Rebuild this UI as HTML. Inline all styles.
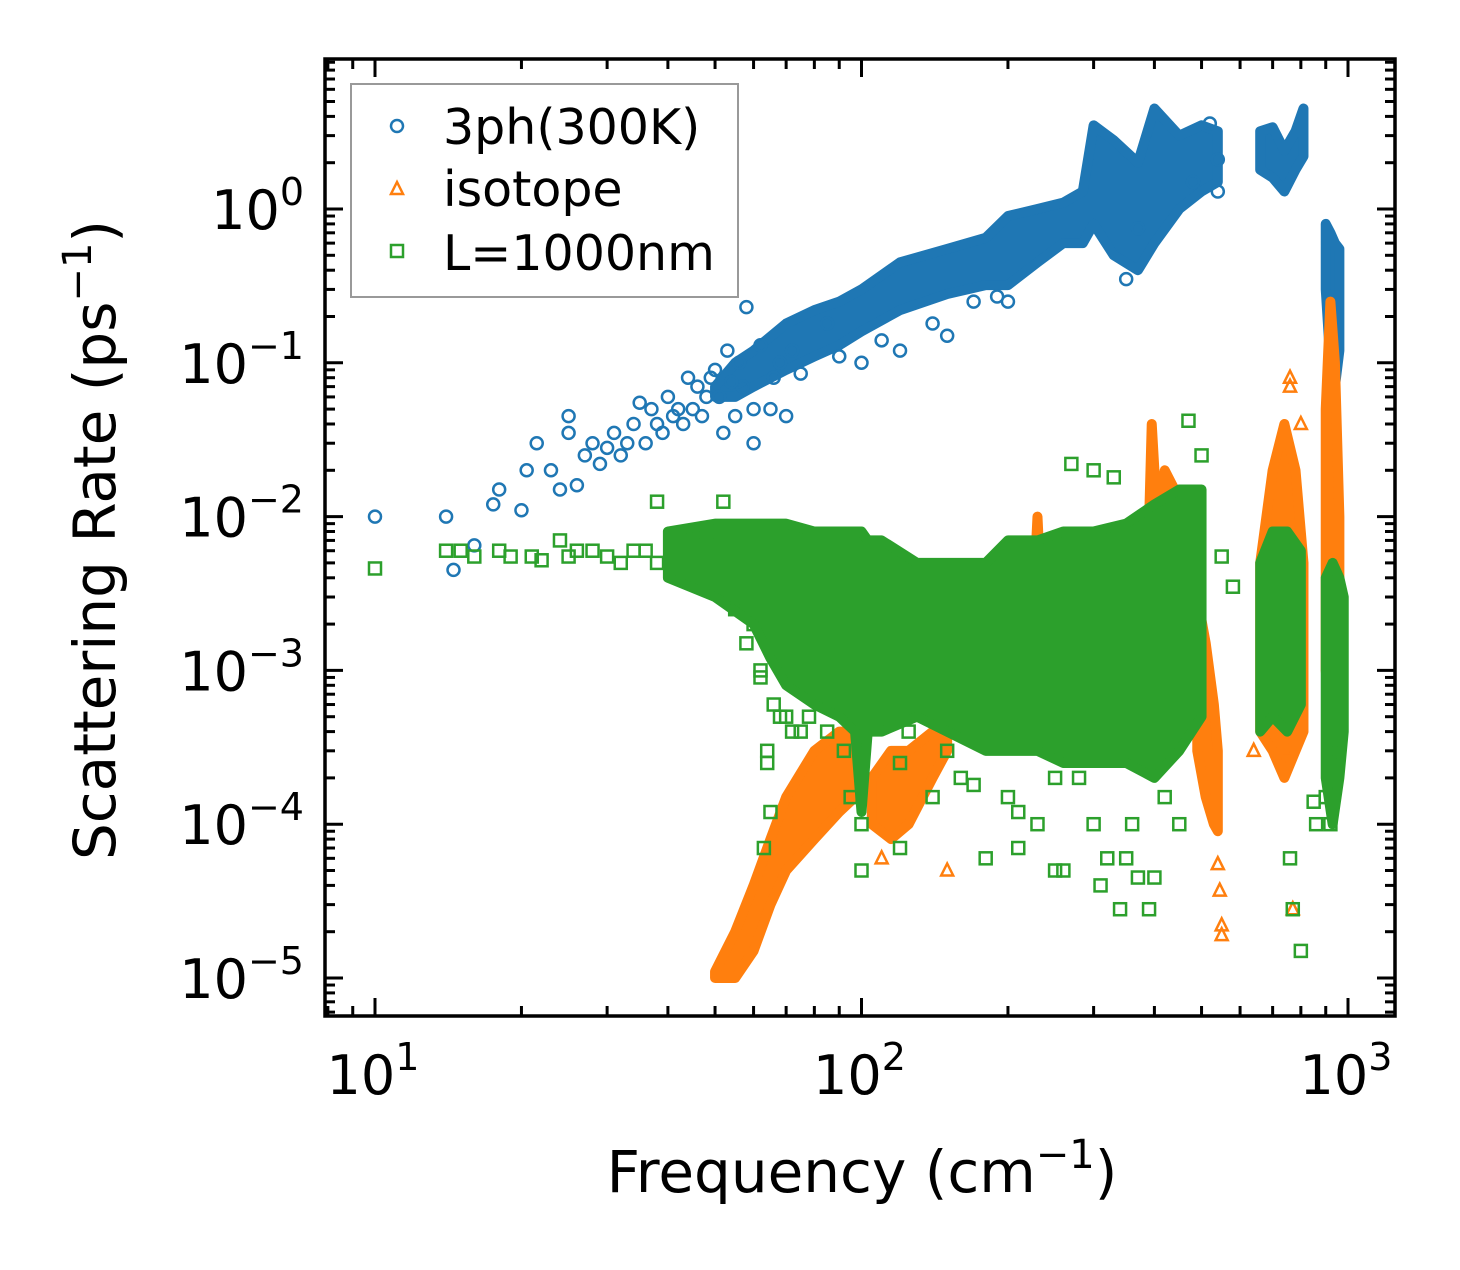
<!DOCTYPE html>
<html><head><meta charset="utf-8"><style>
body{margin:0;background:#fff;}
svg text{font-family:"DejaVu Sans","Liberation Sans",sans-serif;fill:#000;}
</style></head><body>
<svg id="chart" width="1460" height="1265" xmlns="http://www.w3.org/2000/svg">
<g id="plot"></g>
<g id="axes"></g>
</svg>
<script>
// ---- data ----
const blueBandF=[50,55,60,70,80,90,100,120,150,180,200,230,260,285,300,330,370,400,450,500,540];
const blueBandLo=[0.06,0.06,0.07,0.09,0.11,0.13,0.16,0.22,0.28,0.32,0.32,0.45,0.6,0.6,0.8,0.5,0.4,0.6,1.0,1.3,1.5];
const blueBandHi=[0.07,0.1,0.12,0.18,0.22,0.25,0.3,0.45,0.55,0.65,0.9,1.0,1.1,1.3,3.5,2.8,2.0,4.5,3.0,3.5,3.2];
const blueBand2F=[660,700,740,780,810];
const blueBand2Lo=[1.8,1.6,1.3,1.8,2.2];
const blueBand2Hi=[3.2,3.4,2.4,3.2,4.5];
const blueBand3F=[900,920,940,960];
const blueBand3Lo=[0.3,0.1,0.07,0.12];
const blueBand3Hi=[0.8,0.7,0.6,0.55];
const blueX=[10,14,14.5,16,17.5,18,20,20.5,21.5,23,24,25,25,26,27,28,29,30,31,32,33,34,35,36,37,38,40,42,44,46,48,50,52,55,58,60,62,65,70,75,85,100,120,150,200,350,370,480,540,540,520,60,45,47,53,56,43,41,39,57,49,51,54,66,68,72,90,110,140,170,190];
const blueY=[0.01,0.01,0.0045,0.0065,0.012,0.015,0.011,0.02,0.03,0.02,0.015,0.045,0.035,0.016,0.025,0.03,0.022,0.028,0.035,0.025,0.03,0.04,0.055,0.03,0.05,0.04,0.06,0.05,0.08,0.07,0.06,0.09,0.035,0.045,0.23,0.05,0.13,0.05,0.045,0.085,0.18,0.1,0.12,0.15,0.25,0.35,0.75,1.5,1.3,2.1,3.6,0.03,0.05,0.045,0.12,0.1,0.04,0.045,0.035,0.07,0.08,0.06,0.075,0.08,0.1,0.12,0.11,0.14,0.18,0.25,0.27];

const orBands=[
 {f:[50,55,60,65,70,80,90,97],lo:[1e-5,1e-5,1.5e-5,3e-5,5e-5,8e-5,1.2e-4,1.5e-4],hi:[1.1e-5,2e-5,4e-5,8e-5,1.5e-4,3e-4,4e-4,4e-4]},
 {f:[105,115,125,140,150],lo:[1e-4,8e-5,1e-4,2e-4,3e-4],hi:[2e-4,3e-4,3e-4,4e-4,4e-4]},
 {f:[222,230,238],lo:[1e-3,1e-3,1e-3],hi:[1e-3,1e-2,1e-3]},
 {f:[385,395,405,420,440],lo:[1e-3,1e-3,1e-3,1e-3,1e-3],hi:[2e-3,4e-2,1e-2,2e-2,1.5e-2]},
 {f:[490,510,530,540],lo:[3e-4,1.5e-4,1e-4,9e-5],hi:[3e-3,1.5e-3,6e-4,3e-4]},
 {f:[660,700,740,780,810],lo:[4e-4,3e-4,2e-4,3e-4,4e-4],hi:[5e-3,2e-2,4e-2,2e-2,5e-3]},
 {f:[900,920,940,960],lo:[1e-3,5e-4,1e-3,2e-3],hi:[5e-2,0.25,0.1,1e-2]}
];
const orX=[110,150,540,545,550,550,770,760,760,800,750,640,950,960];
const orY=[6e-5,5e-5,5.5e-5,3.7e-5,2.2e-5,1.9e-5,2.8e-5,8e-2,7e-2,4e-2,3e-4,3e-4,4e-3,2e-3];

const grBands=[
 {f:[40,50,60,65,70,80,90,97,100,103,110,130,150,180,200,230,260,300,350,400,450,500],
  lo:[4e-3,3e-3,2e-3,1.2e-3,8e-4,6e-4,5e-4,4e-4,1.2e-4,4e-4,4e-4,5e-4,4e-4,3e-4,3e-4,3e-4,2.5e-4,2.5e-4,2.5e-4,2e-4,3e-4,5e-4],
  hi:[8e-3,9e-3,9e-3,9e-3,9e-3,8e-3,8e-3,8e-3,8e-3,7e-3,7e-3,5e-3,5e-3,5e-3,7e-3,7e-3,8e-3,8e-3,9e-3,1.2e-2,1.5e-2,1.5e-2]},
 {f:[660,700,750,800],lo:[4e-4,5e-4,4e-4,6e-4],hi:[5e-3,8e-3,8e-3,6e-3]},
 {f:[900,930,960,980],lo:[2e-4,1e-4,2e-4,4e-4],hi:[4e-3,5e-3,4e-3,3e-3]}
];
const grX=[10,14,15,16,18,19,21,22,24,25,26,28,30,32,34,36,38,38,44,48,52,60,62,64,65,64,63,70,75,85,95,100,100,120,125,150,160,180,200,210,230,250,260,280,300,310,320,340,350,360,370,390,400,420,450,270,300,330,470,500,550,580,760,770,800,850,860,920,950,900,55,58,62,66,68,72,78,85,92,120,140,170,210,250];
const grY=[0.0046,0.006,0.006,0.0055,0.006,0.0055,0.0055,0.0052,0.007,0.0055,0.006,0.006,0.0055,0.005,0.006,0.006,0.0125,0.005,0.006,0.008,0.0125,0.002,0.001,0.0003,0.00012,0.00025,0.00007,0.0005,0.0004,0.0006,0.00015,0.00005,0.0001,0.00007,0.0004,0.0003,0.0002,0.00006,0.00015,0.00007,0.0001,0.00005,0.00005,0.0002,0.0001,0.00004,0.00006,0.000028,0.00006,0.0001,0.000045,0.000028,0.000045,0.00015,0.0001,0.022,0.02,0.018,0.042,0.025,0.0055,0.0035,0.00006,0.000028,0.000015,0.00014,0.0001,0.0001,0.0003,0.00015,0.0025,0.0015,0.0009,0.0006,0.0005,0.0004,0.0005,0.0004,0.0003,0.00025,0.00015,0.00018,0.00012,0.0002];

const xTickVals=[10,100,1000];
const xTickLabels=[["10","1"],["10","2"],["10","3"]];
const yTickVals=[1,0.1,0.01,0.001,1e-4,1e-5];
const yTickLabels=[["10","0"],["10","−1"],["10","−2"],["10","−3"],["10","−4"],["10","−5"]];

// ---- axes ----
const L=325,R=1395,T=59,B=1016;
const X0=375,XD=486.5, Y0=209, YD=153.8;
const xs=v=>X0+Math.log10(v/10)*XD;
const ys=v=>Y0-Math.log10(v)*YD;
const NS="http://www.w3.org/2000/svg";
const plot=document.getElementById('plot'), axes=document.getElementById('axes');
function mk(tag,attrs,parent){const e=document.createElementNS(NS,tag);for(const k in attrs)e.setAttribute(k,attrs[k]);parent.appendChild(e);return e;}
const C={b:'#1f77b4',o:'#ff7f0e',g:'#2ca02c'};
function band(f,lo,hi,col,name){
  let pts=[];
  for(let i=0;i<f.length;i++)pts.push(xs(f[i])+','+ys(hi[i]));
  for(let i=f.length-1;i>=0;i--)pts.push(xs(f[i])+','+ys(lo[i]));
  const p=mk('polygon',{points:pts.join(' '),fill:col,stroke:col,'stroke-width':10,'stroke-linejoin':'round'},plot);
  
  
}
function circ(x,y){const e=mk('circle',{cx:xs(x),cy:ys(y),r:6,fill:'none',stroke:C.b,'stroke-width':2.5},plot);
  
  }
function tri(x,y){const cx=xs(x),cy=ys(y);const e=mk('polygon',{points:`${cx},${cy-7} ${cx-6},${cy+5} ${cx+6},${cy+5}`,fill:'none',stroke:C.o,'stroke-width':2.5},plot);
  
  }
function sq(x,y){const e=mk('rect',{x:xs(x)-6,y:ys(y)-6,width:12,height:12,fill:'none',stroke:C.g,'stroke-width':2.5},plot);
  
  }

band(blueBandF,blueBandLo,blueBandHi,C.b,'3ph-band');
band(blueBand2F,blueBand2Lo,blueBand2Hi,C.b,'3ph-band');
band(blueBand3F,blueBand3Lo,blueBand3Hi,C.b,'3ph-band');
blueX.forEach((x,i)=>circ(x,blueY[i]));
orBands.forEach(b=>band(b.f,b.lo,b.hi,C.o,'isotope-band'));
orX.forEach((x,i)=>tri(x,orY[i]));
grBands.forEach(b=>band(b.f,b.lo,b.hi,C.g,'boundary-band'));
grX.forEach((x,i)=>sq(x,grY[i]));

// frame
const fr=mk('rect',{x:L,y:T,width:R-L,height:B-T,fill:'none',stroke:'#000','stroke-width':3.5},axes);

for(let d=0;d<=3;d++){for(let m=1;m<10;m++){const v=m*Math.pow(10,d);const x=xs(v);if(x<L||x>R)continue;const len=m==1?18:10;
  mk('line',{x1:x,y1:B,x2:x,y2:B-len,stroke:'#000','stroke-width':3},axes);
  mk('line',{x1:x,y1:T,x2:x,y2:T+len,stroke:'#000','stroke-width':3},axes);}}
for(let d=-6;d<=1;d++){for(let m=1;m<10;m++){const v=m*Math.pow(10,d);const y=ys(v);if(y<T||y>B)continue;const len=m==1?18:10;
  mk('line',{x1:L,y1:y,x2:L+len,y2:y,stroke:'#000','stroke-width':3},axes);
  mk('line',{x1:R,y1:y,x2:R-len,y2:y,stroke:'#000','stroke-width':3},axes);}}
xTickVals.forEach((v,i)=>{const t=mk('text',{x:xs(v)-2,y:1094,'font-size':54,'text-anchor':'middle'},axes);
  
  t.textContent=xTickLabels[i][0];const s=mk('tspan',{'font-size':38,dy:-24},t);s.textContent=xTickLabels[i][1];});
yTickVals.forEach((v,i)=>{const t=mk('text',{x:304,y:ys(v)+20,'font-size':54,'text-anchor':'end'},axes);
  
  t.textContent=yTickLabels[i][0];const s=mk('tspan',{'font-size':38,dy:-24},t);s.textContent=yTickLabels[i][1];});
</script>
<svg style="position:absolute;left:0;top:0" width="1460" height="1265" xmlns="http://www.w3.org/2000/svg">
<text x="862" y="1192" font-size="58" text-anchor="middle" font-family="DejaVu Sans, Liberation Sans, sans-serif">Frequency (cm<tspan font-size="40" dy="-24">−1</tspan><tspan dy="24">)</tspan></text>
<text transform="translate(115,540) rotate(-90)" font-size="58" text-anchor="middle" font-family="DejaVu Sans, Liberation Sans, sans-serif">Scattering Rate (ps<tspan font-size="40" dy="-24">−1</tspan><tspan dy="24">)</tspan></text>
<g>
<rect x="351" y="84" width="387" height="213" fill="#fff" stroke="#999" stroke-width="2"/>
<circle cx="397" cy="126" r="6" fill="none" stroke="#1f77b4" stroke-width="2.5"/>
<text x="443" y="144" font-size="49" font-family="DejaVu Sans, Liberation Sans, sans-serif">3ph(300K)</text>
<polygon points="397,182 391,194 403,194" fill="none" stroke="#ff7f0e" stroke-width="2.5"/>
<text x="443" y="206" font-size="49" font-family="DejaVu Sans, Liberation Sans, sans-serif">isotope</text>
<rect x="391" y="245" width="12" height="12" fill="none" stroke="#2ca02c" stroke-width="2.5"/>
<text x="443" y="270" font-size="49" font-family="DejaVu Sans, Liberation Sans, sans-serif">L=1000nm</text>
</g>
</svg>
</body></html>
